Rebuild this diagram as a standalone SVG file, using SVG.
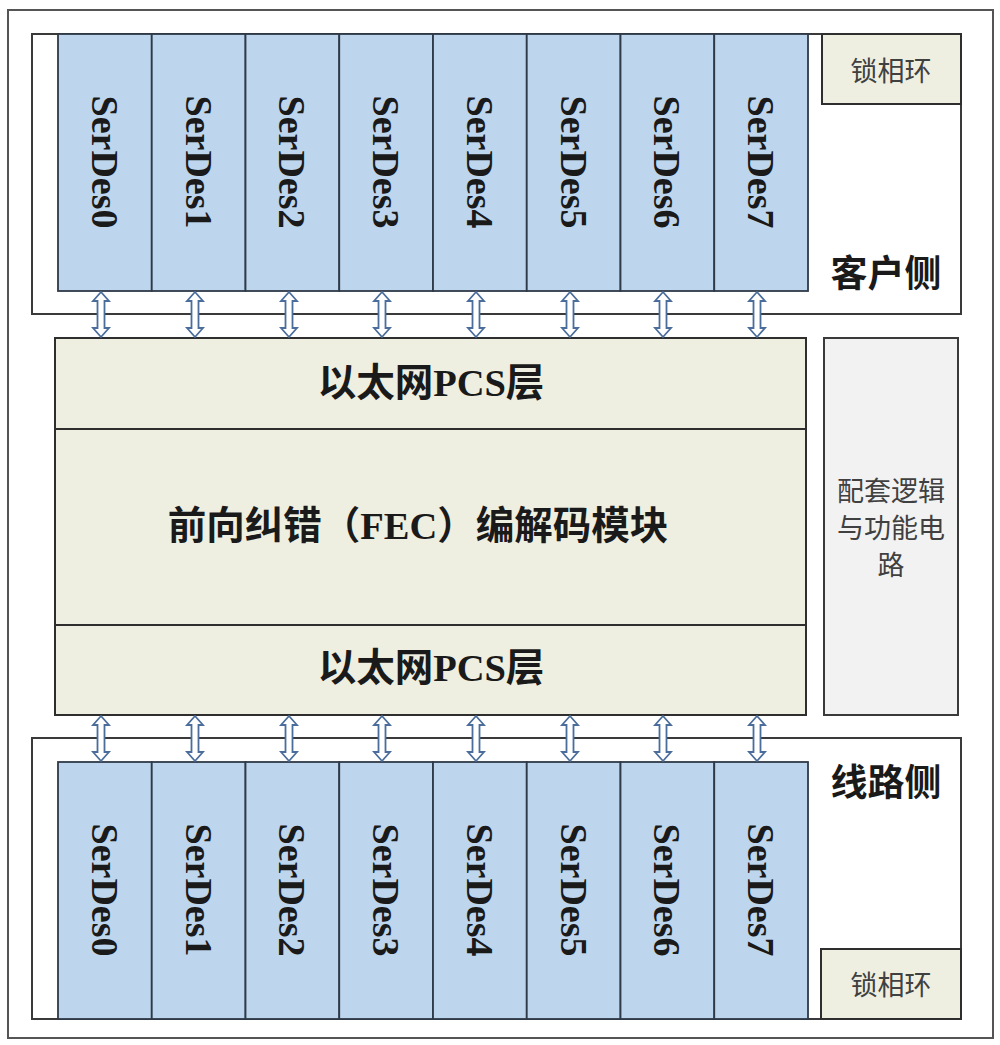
<svg xmlns="http://www.w3.org/2000/svg" width="1000" height="1045" viewBox="0 0 1000 1045">
<style>
.frame{fill:#ffffff;stroke:#555555;stroke-width:2}
.side{fill:#ffffff;stroke:#3a3a3a;stroke-width:2}
.sd{fill:#bdd6ee;stroke:#2f3a48;stroke-width:1.8}
.beige{fill:#efefe1;stroke:#2e2e2e;stroke-width:2}
.gray{fill:#f2f2f2;stroke:#3a3a3a;stroke-width:2}
.sdt{font-family:"Liberation Serif","Noto Sans CJK SC",serif;font-weight:bold;font-size:38px;fill:#1a1a1a;text-anchor:middle;dominant-baseline:central}
.big{font-family:"Liberation Serif","Noto Sans CJK SC",serif;font-weight:bold;font-size:38.5px;fill:#1a1a1a;text-anchor:middle;dominant-baseline:central}
.lbl{font-family:"Noto Sans CJK SC",sans-serif;font-weight:bold;font-size:37px;fill:#1a1a1a;text-anchor:middle;dominant-baseline:central}
.pll{font-family:"Noto Sans CJK SC",sans-serif;font-size:27px;fill:#404040;text-anchor:middle;dominant-baseline:central}
.aux{font-family:"Noto Sans CJK SC",sans-serif;font-size:27px;fill:#404040;text-anchor:middle;dominant-baseline:central}
.arr{fill:#ffffff;stroke:#4a6d9c;stroke-width:1.8;stroke-linejoin:miter}
</style>
<defs>
<path id="dbl" class="arr" d="M0,0 L8,9 L3.5,9 L3.5,36 L8,36 L0,45 L-8,36 L-3.5,36 L-3.5,9 L-8,9 Z"/>
</defs>
<rect x="0" y="0" width="1000" height="1045" fill="#ffffff"/>
<g id="outer-frame"><rect class="frame" x="8" y="10" width="985" height="1028"/></g>

<g id="client-side">
<rect class="side" x="32" y="34" width="929" height="280"/>
<text class="lbl" x="886" y="271">客户侧</text>
</g>
<g id="pll-top"><rect class="beige" x="822" y="34" width="139" height="70"/><text class="pll" x="891" y="69">锁相环</text></g>

<g id="client-serdes">
<g id="c-serdes0"><rect class="sd" x="58" y="34" width="93.75" height="257"/><text class="sdt" transform="translate(104.9,162) rotate(90)">SerDes0</text></g>
<g id="c-serdes1"><rect class="sd" x="151.75" y="34" width="93.75" height="257"/><text class="sdt" transform="translate(198.6,162) rotate(90)">SerDes1</text></g>
<g id="c-serdes2"><rect class="sd" x="245.5" y="34" width="93.75" height="257"/><text class="sdt" transform="translate(292.4,162) rotate(90)">SerDes2</text></g>
<g id="c-serdes3"><rect class="sd" x="339.25" y="34" width="93.75" height="257"/><text class="sdt" transform="translate(386.1,162) rotate(90)">SerDes3</text></g>
<g id="c-serdes4"><rect class="sd" x="433" y="34" width="93.75" height="257"/><text class="sdt" transform="translate(479.9,162) rotate(90)">SerDes4</text></g>
<g id="c-serdes5"><rect class="sd" x="526.75" y="34" width="93.75" height="257"/><text class="sdt" transform="translate(573.6,162) rotate(90)">SerDes5</text></g>
<g id="c-serdes6"><rect class="sd" x="620.5" y="34" width="93.75" height="257"/><text class="sdt" transform="translate(667.4,162) rotate(90)">SerDes6</text></g>
<g id="c-serdes7"><rect class="sd" x="714.25" y="34" width="93.75" height="257"/><text class="sdt" transform="translate(761.1,162) rotate(90)">SerDes7</text></g>
</g>

<g id="core">
<rect class="beige" x="55" y="338" width="751" height="377"/>
<line x1="55" y1="429" x2="806" y2="429" stroke="#2e2e2e" stroke-width="2"/>
<line x1="55" y1="625" x2="806" y2="625" stroke="#2e2e2e" stroke-width="2"/>
<text class="big" x="431" y="383">以太网PCS层</text>
<text class="big" x="418" y="526">前向纠错（FEC）编解码模块</text>
<text class="big" x="431" y="668">以太网PCS层</text>
</g>

<g id="aux-logic">
<rect class="gray" x="824" y="338" width="134" height="377"/>
<text class="aux" x="891" y="489">配套逻辑</text>
<text class="aux" x="891" y="526">与功能电</text>
<text class="aux" x="891" y="563">路</text>
</g>

<g id="line-side">
<rect class="side" x="32" y="738" width="929" height="281"/>
<text class="lbl" x="886" y="780">线路侧</text>
</g>
<g id="pll-bottom"><rect class="beige" x="821" y="949" width="140" height="70"/><text class="pll" x="891" y="983">锁相环</text></g>

<g id="line-serdes">
<g id="l-serdes0"><rect class="sd" x="58" y="762" width="93.75" height="257"/><text class="sdt" transform="translate(104.9,890) rotate(90)">SerDes0</text></g>
<g id="l-serdes1"><rect class="sd" x="151.75" y="762" width="93.75" height="257"/><text class="sdt" transform="translate(198.6,890) rotate(90)">SerDes1</text></g>
<g id="l-serdes2"><rect class="sd" x="245.5" y="762" width="93.75" height="257"/><text class="sdt" transform="translate(292.4,890) rotate(90)">SerDes2</text></g>
<g id="l-serdes3"><rect class="sd" x="339.25" y="762" width="93.75" height="257"/><text class="sdt" transform="translate(386.1,890) rotate(90)">SerDes3</text></g>
<g id="l-serdes4"><rect class="sd" x="433" y="762" width="93.75" height="257"/><text class="sdt" transform="translate(479.9,890) rotate(90)">SerDes4</text></g>
<g id="l-serdes5"><rect class="sd" x="526.75" y="762" width="93.75" height="257"/><text class="sdt" transform="translate(573.6,890) rotate(90)">SerDes5</text></g>
<g id="l-serdes6"><rect class="sd" x="620.5" y="762" width="93.75" height="257"/><text class="sdt" transform="translate(667.4,890) rotate(90)">SerDes6</text></g>
<g id="l-serdes7"><rect class="sd" x="714.25" y="762" width="93.75" height="257"/><text class="sdt" transform="translate(761.1,890) rotate(90)">SerDes7</text></g>
</g>

<g id="connectors">
<use href="#dbl" x="101" y="292"/>
<use href="#dbl" x="195" y="292"/>
<use href="#dbl" x="289" y="292"/>
<use href="#dbl" x="382" y="292"/>
<use href="#dbl" x="476" y="292"/>
<use href="#dbl" x="570" y="292"/>
<use href="#dbl" x="663" y="292"/>
<use href="#dbl" x="757" y="292"/>
<use href="#dbl" x="101" y="716"/>
<use href="#dbl" x="195" y="716"/>
<use href="#dbl" x="289" y="716"/>
<use href="#dbl" x="382" y="716"/>
<use href="#dbl" x="476" y="716"/>
<use href="#dbl" x="570" y="716"/>
<use href="#dbl" x="663" y="716"/>
<use href="#dbl" x="757" y="716"/>
</g>
</svg>
